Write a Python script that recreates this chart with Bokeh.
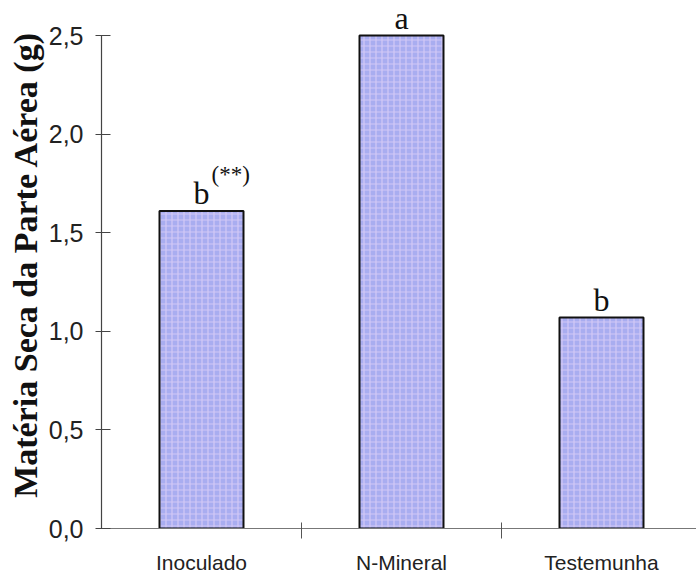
from bokeh.plotting import figure
from bokeh.models import ColumnDataSource, FixedTicker, CustomJSTickFormatter, Range1d
from bokeh.core.properties import value
from bokeh.embed import file_html
from bokeh.resources import INLINE

# data
categories = ["Inoculado", "N-Mineral", "Testemunha"]
values = [1.61, 2.50, 1.07]
letters = ["b", "a", "b"]
superscripts = ["(**)", "", ""]
y_ticks = [0.0, 0.5, 1.0, 1.5, 2.0, 2.5]

xpos = [i + 0.5 for i in range(len(categories))]
bounds = [float(i) for i in range(1, len(categories))]

src = ColumnDataSource(dict(x=xpos, top=values, letter=letters, sup=superscripts))

p = figure(width=696, height=580, output_backend="svg", toolbar_location=None,
           x_range=Range1d(0, 2.975), y_range=Range1d(0, 2.678),
           min_border_left=101, min_border_right=0, min_border_top=0,
           min_border_bottom=52)
p.outline_line_color = None
p.grid.visible = False
p.background_fill_color = "white"
p.border_fill_color = "white"

p.vbar(x="x", top="top", bottom=0, width=0.42, source=src,
       fill_color="#a9adf0", line_color="#111111", line_width=2,
       hatch_pattern="cross", hatch_color="#d2c8f6", hatch_scale=6, hatch_weight=1.2)

p.text(x="x", y="top", text="letter", source=src, text_align="center",
       text_baseline="alphabetic", y_offset=-18,
       text_font=value("Liberation Serif"), text_font_size="32px", text_color="#111111")
p.text(x="x", y="top", text="sup", source=src, text_align="left",
       text_baseline="alphabetic", x_offset=10, y_offset=-37,
       text_font=value("Liberation Serif"), text_font_size="23px", text_color="#111111")

# x axis
xa = p.xaxis[0]
xa.ticker = FixedTicker(ticks=xpos, minor_ticks=bounds)
xa.major_label_overrides = {x: c for x, c in zip(xpos, categories)}
xa.major_tick_line_color = None
xa.major_tick_out = 0
xa.major_tick_in = 0
xa.minor_tick_in = 6
xa.minor_tick_out = 10
xa.minor_tick_line_color = "#555555"
xa.axis_line_color = "#777777"
xa.axis_line_width = 1.2
xa.major_label_standoff = 12
xa.major_label_text_font = "Liberation Sans"
xa.major_label_text_font_size = "21px"
xa.major_label_text_color = "#222222"

# y axis
ya = p.yaxis[0]
ya.ticker = FixedTicker(ticks=y_ticks, minor_ticks=[])
ya.formatter = CustomJSTickFormatter(code="return tick.toFixed(1).replace('.', ',');")
ya.bounds = (0, 2.5)
ya.major_tick_out = 6
ya.major_tick_in = 9
ya.major_tick_line_color = "#444444"
ya.axis_line_color = "#444444"
ya.axis_line_width = 1.2
ya.major_label_standoff = 12
ya.major_label_text_font = "Liberation Sans"
ya.major_label_text_font_size = "25px"
ya.major_label_text_color = "#222222"
ya.axis_label = "Matéria Seca da Parte Aérea (g)"
ya.axis_label_text_font = "Liberation Serif"
ya.axis_label_text_font_style = "bold"
ya.axis_label_text_font_size = "34px"
ya.axis_label_text_color = "#111111"
ya.axis_label_standoff = 2

open("out.html", "w").write(file_html(p, INLINE))
